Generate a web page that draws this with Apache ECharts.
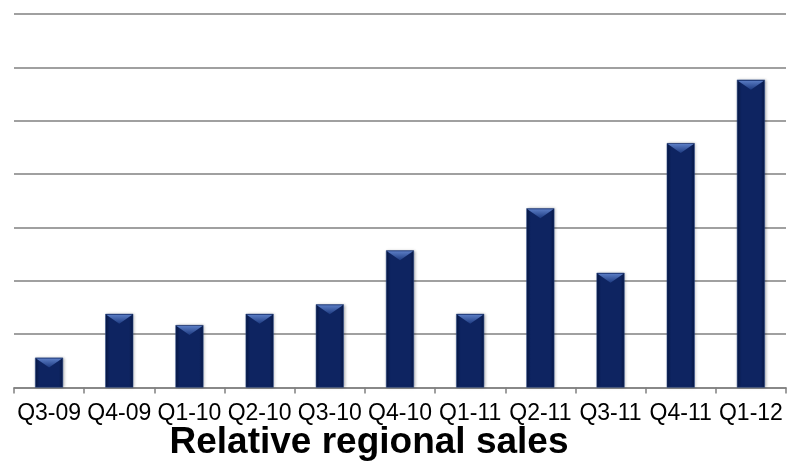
<!DOCTYPE html>
<html>
<head>
<meta charset="utf-8">
<script src="https://cdn.jsdelivr.net/npm/echarts@6/dist/echarts.min.js"></script>
<style>
	html, body { margin: 0; padding: 0; background: #fff; }
	#main { width: 787px; height: 463px; }
</style>
</head>
<body>
<div id="main"></div>
<script>
// quarters along the x axis
var categories = ['Q3-09', 'Q4-09', 'Q1-10', 'Q2-10', 'Q3-10', 'Q4-10', 'Q1-11', 'Q2-11', 'Q3-11', 'Q4-11', 'Q1-12'];
// relative sales, read in gridline units
var salesValues = [0.56, 1.38, 1.17, 1.38, 1.56, 2.57, 1.38, 3.36, 2.15, 4.58, 5.77];
var titleText = 'Relative regional sales';

var chart = echarts.init(document.getElementById('main'));
chart.setOption({
	animation: false,
	title: {
		text: titleText,
		left: 364,
		textAlign: 'center',
		top: 419,
		textStyle: {
			fontFamily: 'Liberation Sans',
			fontWeight: 'bold',
			fontSize: 37,
			color: '#000'
		}
	},
	grid: {
		left: 14,
		right: 1,
		top: 14,
		bottom: 75.5
	},
	xAxis: {
		type: 'category',
		data: categories,
		boundaryGap: true,
		axisLine: {
			lineStyle: { color: '#808080', width: 1.5 }
		},
		axisTick: {
			show: true,
			length: 6,
			lineStyle: { color: '#808080', width: 1.5 }
		},
		axisLabel: {
			interval: 0,
			color: '#000',
			fontFamily: 'Liberation Sans',
			fontSize: 23,
			margin: 15
		}
	},
	yAxis: {
		type: 'value',
		min: 0,
		max: 7,
		interval: 1,
		axisLine: { show: false },
		axisTick: { show: false },
		axisLabel: { show: false },
		splitLine: {
			lineStyle: { color: '#808080', width: 1.5 }
		}
	},
	series: [{
		type: 'bar',
		data: salesValues,
		barWidth: 28,
		barGap: '-100%',
		itemStyle: {
			color: {
				type: 'linear', x: 0, y: 0, x2: 1, y2: 0,
				colorStops: [
					{ offset: 0, color: '#071845' },
					{ offset: 0.15, color: '#0e2461' },
					{ offset: 0.85, color: '#0e2461' },
					{ offset: 1, color: '#071845' }
				]
			},
			borderColor: '#2b4a8c',
			borderWidth: 0.5,
			shadowColor: 'rgba(0,0,0,0.3)',
			shadowBlur: 3,
			shadowOffsetX: 1
		}
	}, {
		// light bevel at the top of each bar
		type: 'pictorialBar',
		data: salesValues,
		barGap: '-100%',
		symbol: 'path://M0,0 L10,0 L5,4 Z',
		symbolSize: [26, 9],
		symbolPosition: 'end',
		symbolOffset: [0, 1],
		z: 3,
		silent: true,
		itemStyle: {
			color: {
				type: 'linear', x: 0, y: 0, x2: 0, y2: 1,
				colorStops: [
					{ offset: 0, color: '#5a7cc4' },
					{ offset: 1, color: '#1d3a80' }
				]
			}
		}
	}]
});
</script>
</body>
</html>
